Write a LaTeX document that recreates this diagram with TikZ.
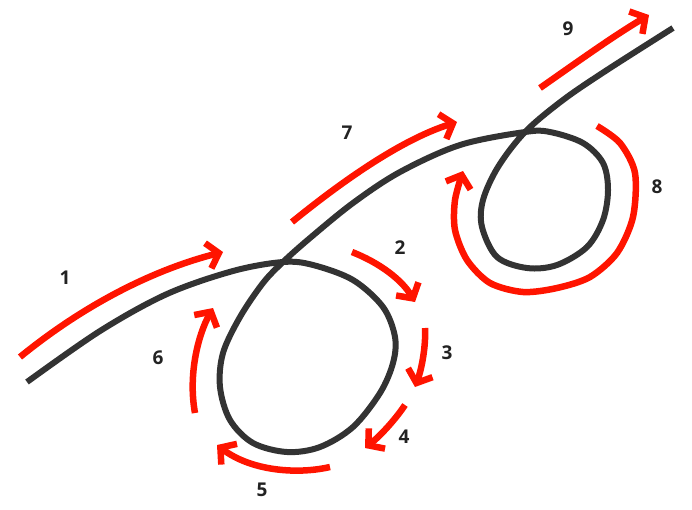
\documentclass[tikz,border=0pt]{standalone}
\usepackage{fontspec}
\setmainfont{Open Sans}
\usetikzlibrary{arrows.meta}
\definecolor{curvegray}{RGB}{51,51,51}
\definecolor{arrowred}{RGB}{255,20,0}
\definecolor{labelgray}{RGB}{34,34,34}
\tikzset{
  curve/.style={draw=curvegray, line width=6pt, line join=round},
  flow/.style={draw=arrowred, line width=6.5pt,
    -{Straight Barb[length=11pt, width=26pt, line join=miter]}},
  lbl/.style={text=labelgray, font=\fontsize{19}{19}\selectfont\bfseries, inner sep=0pt}
}
\begin{document}
\begin{tikzpicture}[x=1pt,y=-1pt]
\useasboundingbox (0,0) rectangle (692,509);
% main dark curve with two loops
\draw[curve] plot[smooth, tension=0.55] coordinates {
  (27,382) (100,331) (167,294) (233,271) (283,262)
  (313,265) (353,280) (383,307) (395,337) (393,363) (380,393)
  (353,427) (320,447) (287,452) (253,443) (230,420) (220,387)
  (223,353) (240,317) (263,283) (283,262)
  (310,238) (353,203) (400,172) (460,145) (525,132)
  (550,132) (583,143) (603,163) (608,190) (603,220) (587,247)
  (557,265) (527,268) (497,257) (482,227) (483,200) (498,167)
  (525,132) (563,100) (607,70) (673,28)};
% red arrows
\coordinate (a1s) at (20,357);  \coordinate (a1e) at (223,252);
\coordinate (a2s) at (352,252); \coordinate (a2e) at (415,302);
\coordinate (a3s) at (425,328); \coordinate (a3e) at (415,387);
\coordinate (a4s) at (405,405); \coordinate (a4e) at (365,448);
\coordinate (a5s) at (330,467); \coordinate (a5e) at (217,445);
\coordinate (a6s) at (195,413); \coordinate (a6e) at (213,308);
\coordinate (a7s) at (292,222); \coordinate (a7e) at (457,122);
\coordinate (a9s) at (540,88);  \coordinate (a9e) at (649,15);
\draw[flow] (a1s) .. controls (90,300) and (160,268) .. (a1e);
\draw[flow] (a2s) .. controls (380,263) and (402,280) .. (a2e);
\draw[flow] (a3s) .. controls (426,345) and (422,368) .. (a3e);
\draw[flow] (a4s) .. controls (395,420) and (380,436) .. (a4e);
\draw[flow] (a5s) .. controls (295,475) and (250,470) .. (a5e);
\draw[flow] (a6s) .. controls (188,375) and (198,335) .. (a6e);
\draw[flow] (a7s) .. controls (340,183) and (400,140) .. (a7e);
\draw[flow] plot[smooth] coordinates {(597,126) (620,143) (635,173) (633,217) (617,253)
  (590,277) (557,288) (523,292) (490,283) (467,260) (455,230) (455,200) (463,171)};
\draw[flow] (a9s) .. controls (580,60) and (615,35) .. (a9e);
% labels
\node[lbl] (l1) at (65,278) {1};
\node[lbl] (l2) at (400,248) {2};
\node[lbl] (l3) at (447,353) {3};
\node[lbl] (l4) at (404,437) {4};
\node[lbl] (l5) at (262,490) {5};
\node[lbl] (l6) at (158,358) {6};
\node[lbl] (l7) at (347,133) {7};
\node[lbl] (l8) at (657,187) {8};
\node[lbl] (l9) at (568,29) {9};
\end{tikzpicture}
\end{document}
